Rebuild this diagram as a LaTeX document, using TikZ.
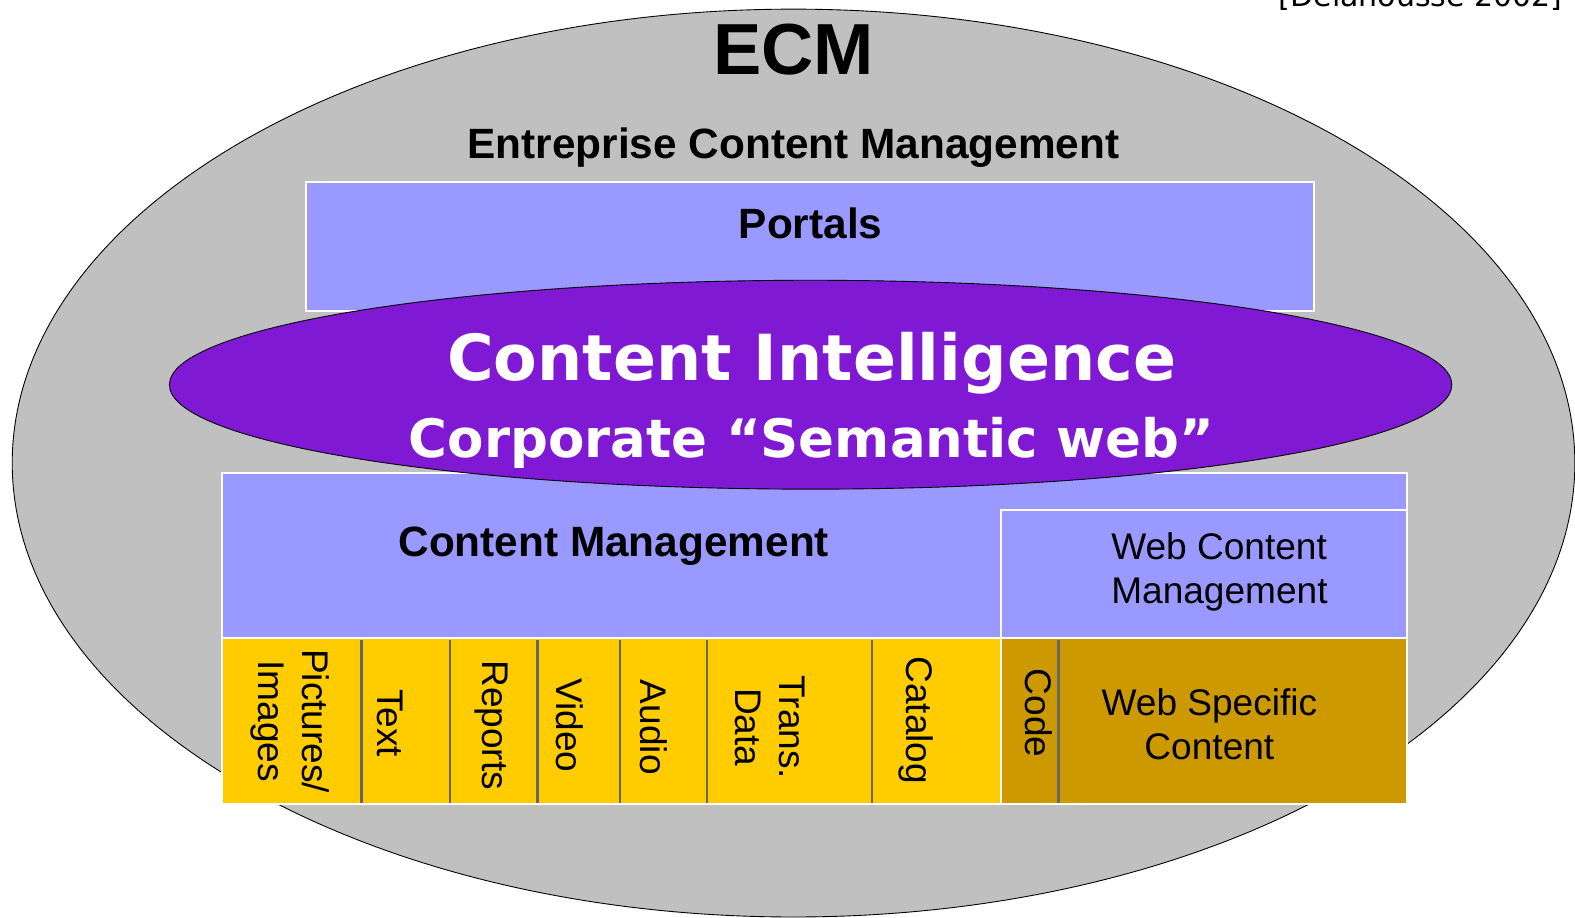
\documentclass[tikz,border=0pt]{standalone}
\usepackage{fontspec}
\setmainfont{Liberation Sans}
\newfontfamily\vera{DejaVu Sans}
\usetikzlibrary{shapes.geometric}

\definecolor{ecmgray}{HTML}{C0C0C0}
\definecolor{boxblue}{HTML}{9999FF}
\definecolor{civiolet}{HTML}{7F19D4}
\definecolor{docyellow}{HTML}{FFCC00}
\definecolor{webgold}{HTML}{CC9900}
\definecolor{divider}{HTML}{666666}

\tikzset{
  wbox/.style={draw=white, line width=1.1pt},
  divline/.style={draw=divider, line width=1.4pt},
  boldlabel/.style={font=\fontsize{24}{28}\selectfont\bfseries, inner sep=0pt},
  plainlabel/.style={font=\fontsize{21}{25}\selectfont, align=center, inner sep=0pt},
  vlabel/.style={plainlabel, rotate=-90},
}

\begin{document}
\begin{tikzpicture}[x=0.02cm, y=-0.02cm]
\useasboundingbox (0,0) rectangle (1568,913);
\clip (0,0) rectangle (1568,913);

% outer ECM ellipse
\node[ellipse, draw=black, line width=0.5pt, fill=ecmgray, inner sep=0pt,
      minimum width=31.12cm, minimum height=18.08cm] (ecm) at (790,461) {};

% citation in the corner
\node[font=\vera\fontsize{17}{20}\selectfont, anchor=base east, inner sep=0pt]
  (cite) at (1556,6) {[Delahousse 2002]};

% titles
\node[font=\fontsize{41}{46}\selectfont\bfseries, inner sep=0pt] (ecmtitle) at (790,49) {ECM};
\node[boldlabel] (ecmsub) at (790,147) {Entreprise Content Management};

% portals layer
\path[wbox, fill=boxblue] (305,181) rectangle (1308,310);
\node[boldlabel] (portals) at (807,222) {Portals};

% content management layer
\path[wbox, fill=boxblue] (221,471) rectangle (1401,635);
\node[boldlabel] (cm) at (611,544) {Content Management};
\path[wbox, fill=boxblue] (997,508) rectangle (1401,635);
\node[plainlabel, align=left] (wcm) at (1214,569) {Web Content\\Management};

% content types
\path[wbox, fill=docyellow] (221,635) rectangle (997,800);
\path[wbox, fill=webgold] (997,635) rectangle (1401,800);
\foreach \xx in {360,448,535,617,704,868,1054}
  \draw[divline] (\xx,637) -- (\xx,799);

\node[vlabel] (pics)    at (289,718) {Pictures/\\Images};
\node[vlabel] (text)    at (388,720) {Text};
\node[vlabel] (reports) at (489,722) {Reports};
\node[vlabel] (video)   at (567,722) {Video};
\node[vlabel] (audio)   at (651,724) {Audio};
\node[vlabel] (trans)   at (767,724) {Trans.\\Data};
\node[vlabel] (catalog) at (912,717) {Catalog};
\node[vlabel] (code)    at (1034,710) {Code};
\node[plainlabel] (websc) at (1204,721) {Web Specific\\Content};

% content intelligence ellipse on top
\node[ellipse, draw=black, line width=0.5pt, fill=civiolet, inner sep=0pt,
      minimum width=25.54cm, minimum height=4.16cm] (ci) at (807,383) {};
\node[font=\vera\fontsize{36}{41}\selectfont\bfseries, text=white, inner sep=0pt]
  (cititle) at (808,362) {Content Intelligence};
\node[font=\vera\fontsize{30}{34}\selectfont\bfseries, text=white, inner sep=0pt]
  (cisub) at (808,441) {Corporate “Semantic web”};
\end{tikzpicture}
\end{document}
